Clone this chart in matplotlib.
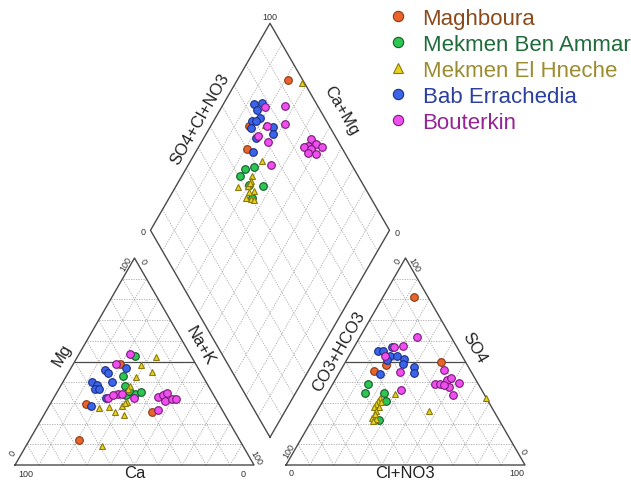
import numpy as np
import matplotlib
matplotlib.use("Agg")
from matplotlib import pyplot as plt

plt.rcParams['font.family'] = ['Liberation Sans', 'DejaVu Sans']

groups = ["Maghboura", "Mekmen Ben Ammar", "Mekmen El Hneche", "Bab Errachedia", "Bouterkin"]
face = ["#e8642c", "#2dc653", "#e6d21e", "#3c64e6", "#ee4fee"]
edge = ["#8b3a10", "#145a2a", "#8a7a10", "#1a2f8a", "#7a1a7a"]
txtcol = ["#8b4a1c", "#1f6b3a", "#9c8c30", "#2a3fa0", "#962496"]
markers = ["o", "o", "^", "o", "o"]

# cations, % (left triangle)
mg = [
    [48.6, 29.3, 25.6, 12.2],
    [52.9, 43.1, 38.2, 33.9, 34.2, 35.3, 35.6],
    [52.0, 48.1, 45.1, 42.5, 38.2, 36.8, 30.6, 28.4, 28.2, 27.4, 25.4, 24.2, 9.3, 29.8],
    [45.7, 44.5, 46.7, 39.9, 39.9, 38.5, 36.9, 36.9, 32.5, 28.3],
    [53.4, 48.9, 34.5, 34.5, 32.6, 32.2, 32.9, 33.8, 35.0, 30.9, 31.8, 32.1, 26.8, 33.7],
]
nak = [
    [19.7, 15.2, 44.6, 20.7],
    [23.8, 23.6, 27.1, 29.7, 33.3, 35.2, 29.7],
    [33.0, 28.5, 34.7, 29.3, 29.1, 28.8, 31.7, 30.6, 25.3, 21.3, 29.0, 33.4, 31.7, 31.3],
    [14.9, 16.5, 23.2, 20.6, 12.4, 14.9, 15.1, 16.7, 21.7, 17.8],
    [21.5, 17.9, 25.8, 27.5, 22.6, 33.6, 43.3, 44.9, 46.1, 47.5, 49.8, 51.3, 46.6, 24.0],
]

# anions, % (right triangle)
so4 = [
    [81.0, 50.0, 45.4, 48.3],
    [39.0, 34.6, 34.6, 30.9, 21.7],
    [32.6, 26.0, 34.5, 32.6, 30.9, 29.3, 28.2, 27.8, 26.1, 22.9, 22.1, 21.3, 24.5, 30.3],
    [55.3, 55.3, 52.9, 52.9, 57.1, 51.0, 48.9, 47.5, 44.6, 43.8, 50.5],
    [61.9, 56.9, 57.4, 52.6, 44.9, 36.1, 45.7, 39.3, 39.0, 40.9, 41.9, 39.8, 37.9, 33.8, 38.5],
]
clno3 = [
    [13.0, 39.9, 14.1, 17.6],
    [14.8, 15.6, 23.7, 26.5, 28.1],
    [67.5, 46.7, 28.5, 23.1, 23.2, 22.9, 22.7, 25.0, 24.8, 24.7, 26.5, 25.8, 24.9, 24.5],
    [11.0, 13.1, 16.9, 20.1, 15.9, 23.8, 24.6, 29.7, 31.2, 17.4, 17.1],
    [23.9, 16.7, 20.1, 15.0, 25.1, 29.9, 43.1, 42.6, 45.1, 46.9, 48.1, 52.3, 49.1, 53.0, 46.7],
]

# diamond, %
so4_cl = [
    [93.9, 66.3, 59.9],
    [58.8, 54.3, 50.4, 57.7, 52.3, 50.4],
    [99.0, 63.2, 55.6, 54.0, 51.6, 52.6, 46.9, 50.4, 47.9, 49.7, 50.8, 73.3, 53.1],
    [73.9, 77.5, 73.4, 72.9, 68.8, 70.5, 66.7, 76.4, 74.7, 66.2, 61.6],
    [77.8, 86.2, 74.0, 82.0, 67.8, 70.4, 66.1, 89.3, 86.2, 89.9, 84.3, 87.0, 92.1, 84.5, 87.4],
]
ca_mg = [
    [78.5, 84.2, 79.3],
    [71.9, 75.2, 75.9, 63.9, 69.5, 65.4],
    [72.0, 70.1, 70.7, 69.8, 69.9, 66.4, 73.8, 68.3, 67.9, 65.5, 63.9, 77.5, 69.8],
    [86.9, 84.2, 84.5, 81.5, 83.8, 82.2, 82.9, 73.6, 71.9, 78.3, 76.0],
    [81.7, 73.7, 76.5, 69.5, 77.8, 72.3, 65.5, 54.7, 54.5, 51.6, 56.1, 52.4, 48.2, 52.8, 49.3],
]

h = np.sqrt(3) / 2
g = 32 / 239  # gap between the triangles


def cat_xy(m, n):
    m = np.asarray(m) / 100.0
    n = np.asarray(n) / 100.0
    return n + m / 2, m * h


def an_xy(s, c):
    s = np.asarray(s) / 100.0
    c = np.asarray(c) / 100.0
    return 1 + g + c + s / 2, s * h


def dia_xy(a, c):
    a = np.asarray(a) / 100.0
    c = np.asarray(c) / 100.0
    return 1 + g / 2 + (a - c) / 2, g * h + (a + c) * h


X0, Y0, U = 15, 466, 239


def px(x, y):
    return (x - X0) / U, (Y0 - y) / U


fig = plt.figure(figsize=(6.31, 4.81), dpi=100)
ax = fig.add_axes([0, 0, 1, 1])
ax.set_xlim(px(0, 0)[0], px(631, 0)[0])
ax.set_ylim(px(0, 481)[1], px(0, 0)[1])
ax.axis('off')

grid_kw = dict(color="#a8a8a8", lw=0.6, ls=(0, (1.5, 1.5)), zorder=1)
out_kw = dict(color="#4a4a4a", lw=1.0, zorder=2)

# triangles
for f in (cat_xy, an_xy):
    for k in range(10, 100, 10):
        x, y = f([k, k], [0, 100 - k])
        if k == 50:
            ax.plot(x, y, color="#4a4a4a", lw=0.9, zorder=2)
        else:
            ax.plot(x, y, **grid_kw)
        x, y = f([0, 100 - k], [k, k])
        ax.plot(x, y, **grid_kw)
        x, y = f([0, 100 - k], [100 - k, 0])
        ax.plot(x, y, **grid_kw)
    x, y = f([0, 0, 100, 0], [0, 100, 0, 0])
    ax.plot(x, y, **out_kw)

# diamond
for k in range(10, 100, 10):
    x, y = dia_xy([k, k], [0, 100])
    ax.plot(x, y, **grid_kw)
    x, y = dia_xy([0, 100], [k, k])
    ax.plot(x, y, **grid_kw)
x, y = dia_xy([0, 100, 100, 0, 0], [0, 0, 100, 100, 0])
ax.plot(x, y, **out_kw)

handles = []
for i in range(len(groups)):
    kw = dict(ls="none", marker=markers[i], ms=5.5 if markers[i] == "o" else 5,
              mfc=face[i], mec=edge[i], mew=0.8, zorder=5)
    x, y = cat_xy(mg[i], nak[i])
    hnd, = ax.plot(x, y, label=groups[i], **kw)
    x, y = an_xy(so4[i], clno3[i])
    ax.plot(x, y, **kw)
    x, y = dia_xy(so4_cl[i], ca_mg[i])
    ax.plot(x, y, **kw)
    handles.append(hnd)

# tick labels
tk = dict(fontsize=6.5, color="#333333", ha="center", va="center")
ax.text(*px(26, 475), "100", **tk)
ax.text(*px(243, 475), "0", **tk)
ax.text(*px(13, 454), "0", rotation=60, **tk)
ax.text(*px(126, 264), "100", rotation=60, **tk)
ax.text(*px(143, 262), "0", rotation=-60, **tk)
ax.text(*px(256, 458), "100", rotation=-60, **tk)

ax.text(*px(291, 474), "0", **tk)
ax.text(*px(517, 474), "100", **tk)
ax.text(*px(289, 451), "100", rotation=60, **tk)
ax.text(*px(398, 262), "0", rotation=60, **tk)
ax.text(*px(414, 265), "100", rotation=-60, **tk)
ax.text(*px(523, 452), "0", rotation=-60, **tk)

ax.text(*px(270, 18), "100", **tk)
ax.text(*px(143, 233), "0", **tk)
ax.text(*px(397, 234), "0", **tk)

lb = dict(fontsize=12, color="#222222", ha="center", va="center")
ax.text(*px(135, 474), "Ca", **lb)
ax.text(*px(62, 355), "Mg", rotation=60, **lb)
ax.text(*px(200, 346), "Na+K", rotation=-60, **lb)
ax.text(*px(405, 474), "Cl+NO3", **lb)
ax.text(*px(339, 352), "CO3+HCO3", rotation=60, **lb)
ax.text(*px(474, 348), "SO4", rotation=-60, **lb)
ax.text(*px(200, 119), "SO4+Cl+NO3", rotation=60, **lb)
ax.text(*px(341, 111), "Ca+Mg", rotation=-60, **lb)

leg = ax.legend(handles=handles, loc="upper left", bbox_to_anchor=(387 / 631, 1 - 9 / 481),
                frameon=False, fontsize=16, markerscale=1.35, handlelength=1.0,
                handletextpad=0.6, labelspacing=0.22, borderaxespad=0, borderpad=0)
for t, c in zip(leg.get_texts(), txtcol):
    t.set_color(c)

fig.savefig("out.png", dpi=100)
